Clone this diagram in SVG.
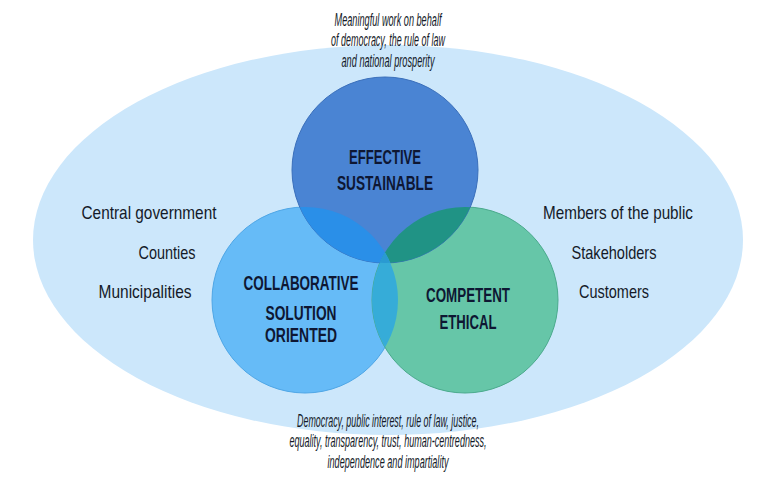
<svg xmlns="http://www.w3.org/2000/svg" width="780" height="480" viewBox="0 0 780 480">
<style>
.it{font-family:"Liberation Sans Narrow","Liberation Sans",Arial,sans-serif;font-style:italic;font-size:19px;fill:#141a28;text-anchor:middle}
.rg{font-family:"Liberation Sans Narrow","Liberation Sans",Arial,sans-serif;font-size:19px;fill:#141a28;text-anchor:middle}
.bd{font-family:"Liberation Sans Narrow","Liberation Sans",Arial,sans-serif;font-weight:bold;font-size:21px;fill:#0e1733;text-anchor:middle}
</style>
<defs>
<clipPath id="cT"><circle cx="385" cy="170" r="93"/></clipPath>
<clipPath id="cL"><circle cx="305" cy="300" r="93"/></clipPath>
</defs>
<rect width="780" height="480" fill="#ffffff"/>
<g id="context">
<ellipse cx="388" cy="240" rx="355" ry="195" fill="#cce7fb"/>
</g>
<g id="circle-collaborative">
<circle cx="305" cy="300" r="93" fill="#66bbf7" stroke="#4ea6e6" stroke-width="1"/>
</g>
<g id="circle-competent">
<circle cx="465" cy="300" r="93" fill="#66c6a8" stroke="#4aaa8c" stroke-width="1"/>
</g>
<g id="circle-effective">
<circle cx="385" cy="170" r="93" fill="#4a84d3" stroke="#3a6fbb" stroke-width="1"/>
</g>
<g id="overlaps">
<g clip-path="url(#cT)"><circle cx="305" cy="300" r="93" fill="#2a8fe8"/></g>
<g clip-path="url(#cT)"><circle cx="465" cy="300" r="93" fill="#209385"/></g>
<g clip-path="url(#cL)"><circle cx="465" cy="300" r="93" fill="#36acd8"/></g>
<g clip-path="url(#cT)"><g clip-path="url(#cL)"><circle cx="465" cy="300" r="93" fill="#2a9ad2"/></g></g>
</g>
<g id="labels">
<text class="bd" x="385" y="164" textLength="72" lengthAdjust="spacingAndGlyphs">EFFECTIVE</text>
<text class="bd" x="385" y="190" textLength="96" lengthAdjust="spacingAndGlyphs">SUSTAINABLE</text>
<text class="bd" x="301" y="290" textLength="115" lengthAdjust="spacingAndGlyphs">COLLABORATIVE</text>
<text class="bd" x="301" y="320" textLength="71" lengthAdjust="spacingAndGlyphs">SOLUTION</text>
<text class="bd" x="301" y="342" textLength="72" lengthAdjust="spacingAndGlyphs">ORIENTED</text>
<text class="bd" x="468" y="302" textLength="84" lengthAdjust="spacingAndGlyphs">COMPETENT</text>
<text class="bd" x="468" y="329" textLength="57" lengthAdjust="spacingAndGlyphs">ETHICAL</text>
</g>
<g id="text-top">
<text class="it" x="388" y="26" textLength="107" lengthAdjust="spacingAndGlyphs">Meaningful work on behalf</text>
<text class="it" x="388" y="46" textLength="114" lengthAdjust="spacingAndGlyphs">of democracy, the rule of law</text>
<text class="it" x="388" y="67" textLength="93" lengthAdjust="spacingAndGlyphs">and national prosperity</text>
</g>
<g id="text-bottom">
<text class="it" x="388" y="427" textLength="182" lengthAdjust="spacingAndGlyphs">Democracy, public interest, rule of law, justice,</text>
<text class="it" x="388" y="447" textLength="197" lengthAdjust="spacingAndGlyphs">equality, transparency, trust, human-centredness,</text>
<text class="it" x="388" y="468" textLength="121" lengthAdjust="spacingAndGlyphs">independence and impartiality</text>
</g>
<g id="text-left">
<text class="rg" x="149" y="219" textLength="135" lengthAdjust="spacingAndGlyphs">Central government</text>
<text class="rg" x="167" y="259" textLength="57" lengthAdjust="spacingAndGlyphs">Counties</text>
<text class="rg" x="145" y="298" textLength="93" lengthAdjust="spacingAndGlyphs">Municipalities</text>
</g>
<g id="text-right">
<text class="rg" x="618" y="219" textLength="150" lengthAdjust="spacingAndGlyphs">Members of the public</text>
<text class="rg" x="614" y="259" textLength="85" lengthAdjust="spacingAndGlyphs">Stakeholders</text>
<text class="rg" x="614" y="298" textLength="70" lengthAdjust="spacingAndGlyphs">Customers</text>
</g>
</svg>
